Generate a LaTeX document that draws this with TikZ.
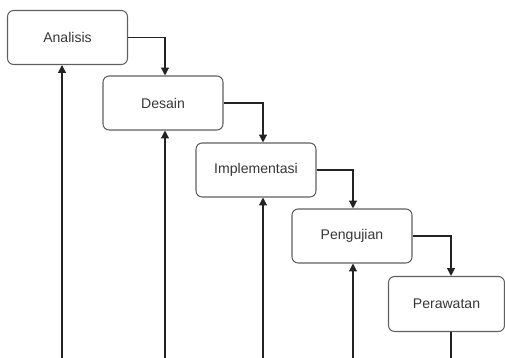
\documentclass[tikz,border=0pt]{standalone}
\usepackage{fontspec}
\setmainfont{Liberation Sans}
\usetikzlibrary{arrows.meta}
\definecolor{boxline}{RGB}{95,95,95}
\definecolor{arrline}{RGB}{35,35,35}
\definecolor{txt}{RGB}{55,55,55}
\begin{document}
\begin{tikzpicture}[x=0.02cm,y=0.02cm,
	phase/.style={draw=boxline,line width=0.6pt,rounded corners=3.5pt,minimum width=2.4cm,minimum height=1.08cm,text=txt,font=\fontsize{8}{10}\selectfont},
	flow/.style={draw=arrline,line width=0.7pt,-{Triangle[width=4.5pt,length=4.5pt]}},
	tail/.style={draw=arrline,line width=0.7pt}]
	\useasboundingbox (0,0) rectangle (505,358);

	\node[phase] (ana) at (67.5,320.5) {Analisis};
	\node[phase] (des) at (163,255) {Desain};
	\node[phase] (imp) at (256,188) {Implementasi};
	\node[phase] (uji) at (352,122) {Pengujian};
	\node[phase,minimum width=2.32cm,minimum height=1.1cm] (raw) at (446.5,54) {Perawatan};

	\coordinate (k1) at (62,-1);
	\coordinate (k2) at (165,-1);
	\coordinate (k3) at (263,-1);
	\coordinate (k4) at (353,-1);
	\coordinate (k5) at (451,-1);

	\draw[flow] (ana.east) -| (k2 |- des.north);
	\draw[flow] (des.east) -| (k3 |- imp.north);
	\draw[flow] (imp.east) -| (k4 |- uji.north);
	\draw[flow] (uji.east) -| (k5 |- raw.north);

	\draw[flow] (k1) -- (k1 |- ana.south);
	\draw[flow] (k2) -- (k2 |- des.south);
	\draw[flow] (k3) -- (k3 |- imp.south);
	\draw[flow] (k4) -- (k4 |- uji.south);
	\draw[tail] (k5 |- raw.south) -- (k5);
\end{tikzpicture}
\end{document}
